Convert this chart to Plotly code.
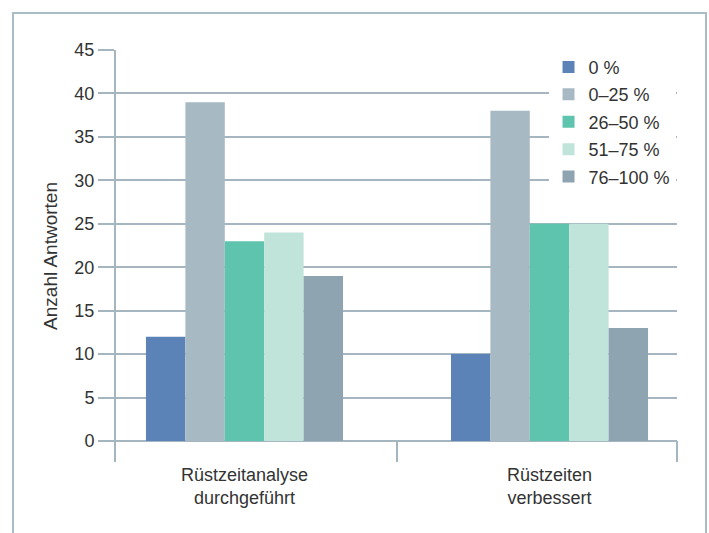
import plotly.graph_objects as go

categories = ["Rüstzeitanalyse<br>durchgeführt", "Rüstzeiten<br>verbessert"]
series_names = ["0 %", "0–25 %", "26–50 %", "51–75 %", "76–100 %"]
s_0 = [12, 10]
s_0_25 = [39, 38]
s_26_50 = [23, 25]
s_51_75 = [24, 25]
s_76_100 = [19, 13]
series_values = [s_0, s_0_25, s_26_50, s_51_75, s_76_100]
colors = ["#5b83b7", "#a7bac4", "#5ec4ad", "#c1e4da", "#8ea5b1"]
y_ticks = [0, 5, 10, 15, 20, 25, 30, 35, 40, 45]

grid_col = "#a5b6c1"
text_col = "#333333"
font_fam = "Liberation Sans, Arial, sans-serif"
y_bottom = -2.42

fig = go.Figure()
for i, (name, vals, col) in enumerate(zip(series_names, series_values, colors)):
    fig.add_trace(go.Bar(
        x=categories, y=vals, name=name, marker=dict(color=col, line=dict(width=0)),
        legendgroup=f"g{i}", hoverinfo="skip",
    ))

fig.update_layout(
    width=709, height=533,
    margin=dict(l=116, r=32, t=50, b=71),
    paper_bgcolor="white", plot_bgcolor="white",
    barmode="group", bargap=0.354, bargroupgap=0,
    font=dict(family=font_fam, color=text_col, size=18),
    showlegend=True,
    legend=dict(
        x=0.771, y=1.003, xanchor="left", yanchor="top",
        bgcolor="white", borderwidth=0,
        font=dict(size=18, color=text_col),
        tracegroupgap=1, traceorder="grouped",
        itemwidth=30,
    ),
    xaxis=dict(
        type="category", range=[-0.4213, 1.418], automargin=False,
        showgrid=False, zeroline=False, showline=False,
        ticks="",
        tickfont=dict(size=18, color=text_col),
    ),
    yaxis=dict(
        range=[y_bottom, 45], tickmode="array", tickvals=y_ticks, automargin=False,
        showgrid=True, gridcolor=grid_col, gridwidth=2,
        zeroline=False, showline=True, linecolor=grid_col, linewidth=2,
        ticks="outside", ticklen=16, tickwidth=2, tickcolor=grid_col,
        tickfont=dict(size=18, color=text_col),
        title=dict(text="Anzahl Antworten", font=dict(size=19, color=text_col), standoff=12),
    ),
    shapes=[
        dict(type="line", xref="x", yref="y", x0=0.5, x1=0.5, y0=0, y1=y_bottom,
             line=dict(color=grid_col, width=2)),
        dict(type="line", xref="paper", yref="y", x0=1, x1=1, y0=0, y1=y_bottom,
             line=dict(color=grid_col, width=2)),
        dict(type="rect", xref="paper", yref="paper",
             x0=-0.1836, x1=1.0517, y0=-0.25, y1=1.0898,
             line=dict(color="#a9bcc8", width=2), fillcolor="rgba(0,0,0,0)", layer="below"),
    ],
)

fig.write_html("out.html")
